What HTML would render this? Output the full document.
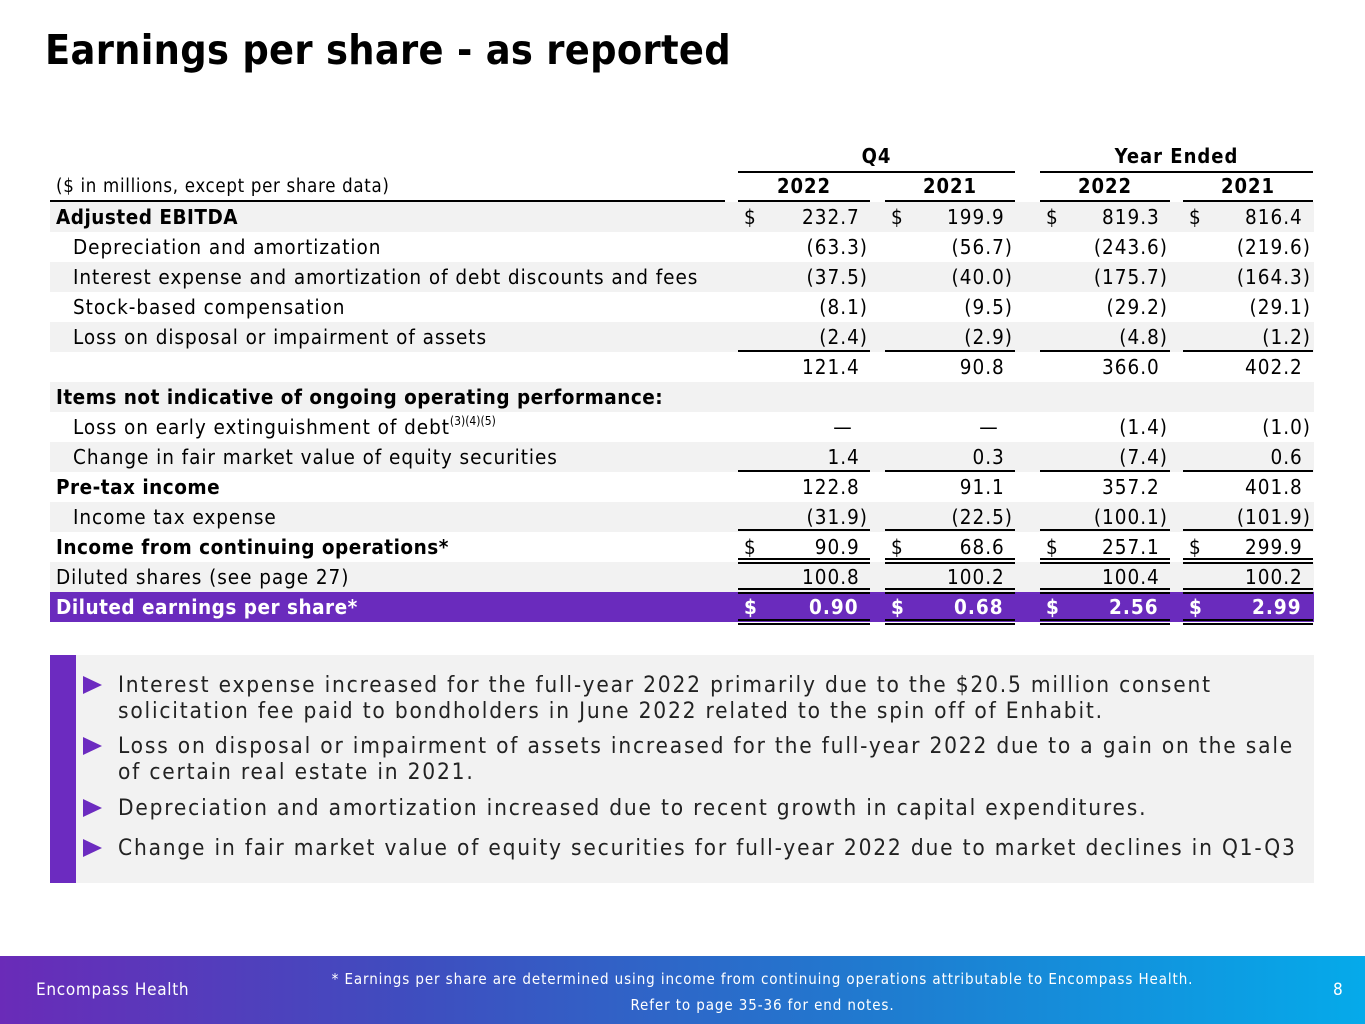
<!DOCTYPE html>
<html><head><meta charset="utf-8"><style>
body{margin:0;width:1365px;height:1024px;position:relative;background:#fff;font-family:"DejaVu Sans Condensed","DejaVu Sans","Liberation Sans",sans-serif;overflow:hidden;color:#000}
.a{position:absolute;white-space:nowrap}
#title{left:45px;top:26px;font-size:41px;font-weight:bold;letter-spacing:0.3px}
.hl{position:absolute;height:2px;background:#000}
.bul{position:absolute;left:118px;font-size:22.5px;line-height:26px;color:#222;letter-spacing:1.8px}
.tri{position:absolute;left:83px;width:0;height:0;border-left:19px solid #6c2bc0;border-top:9px solid transparent;border-bottom:9px solid transparent}
</style></head><body>
<div class="a" id="title">Earnings per share - as reported</div>
<div id="tbl"></div>
<div class="a" style="left:50px;top:655px;width:1264px;height:228px;background:#f2f2f2"></div>
<div class="a" style="left:50px;top:655px;width:26px;height:228px;background:#6c2bc0"></div>
<div class="tri" style="top:676px"></div>
<div class="bul" style="top:672px">Interest expense increased for the full-year 2022 primarily due to the $20.5 million consent<br>solicitation fee paid to bondholders in June 2022 related to the spin off of Enhabit.</div>
<div class="tri" style="top:737px"></div>
<div class="bul" style="top:733px">Loss on disposal or impairment of assets increased for the full-year 2022 due to a gain on the sale<br>of certain real estate in 2021.</div>
<div class="tri" style="top:799px"></div>
<div class="bul" style="top:795px">Depreciation and amortization increased due to recent growth in capital expenditures.</div>
<div class="tri" style="top:839px"></div>
<div class="bul" style="top:835px">Change in fair market value of equity securities for full-year 2022 due to market declines in Q1-Q3</div>
<div class="a" style="left:0;top:956px;width:1365px;height:68px;background:linear-gradient(90deg,#6a2bb8 0%,#3f4dbf 30%,#1f7cd0 65%,#05aaea 100%)"></div>
<div class="a" style="left:36px;top:980px;font-size:17px;color:#fff;letter-spacing:0.7px">Encompass Health</div>
<div class="a" style="left:280px;width:965px;top:966px;font-size:15px;line-height:26px;color:#fff;text-align:center;letter-spacing:0.9px">* Earnings per share are determined using income from continuing operations attributable to Encompass Health.<br>Refer to page 35-36 for end notes.</div>
<div class="a" style="left:1333px;top:980px;font-size:17px;color:#fff">8</div>
<script>
const labels=["Adjusted EBITDA","Depreciation and amortization","Interest expense and amortization of debt discounts and fees","Stock-based compensation","Loss on disposal or impairment of assets","","Items not indicative of ongoing operating performance:","Loss on early extinguishment of debt<span style='font-size:12px;letter-spacing:0;position:relative;top:-9px'>(3)(4)(5)</span>","Change in fair market value of equity securities","Pre-tax income","Income tax expense","Income from continuing operations*","Diluted shares (see page 27)","Diluted earnings per share*"];
const q4_2022=["232.7","(63.3)","(37.5)","(8.1)","(2.4)","121.4","","—","1.4","122.8","(31.9)","90.9","100.8","0.90"];
const q4_2021=["199.9","(56.7)","(40.0)","(9.5)","(2.9)","90.8","","—","0.3","91.1","(22.5)","68.6","100.2","0.68"];
const fy_2022=["819.3","(243.6)","(175.7)","(29.2)","(4.8)","366.0","","(1.4)","(7.4)","357.2","(100.1)","257.1","100.4","2.56"];
const fy_2021=["816.4","(219.6)","(164.3)","(29.1)","(1.2)","402.2","","(1.0)","0.6","401.8","(101.9)","299.9","100.2","2.99"];
const bold=[1,0,0,0,0,0,1,0,0,1,0,1,0,1];
const indent=[0,1,1,1,1,0,0,1,1,0,1,0,0,0];
const dollar=[1,0,0,0,0,0,0,0,0,0,0,1,0,1];
const T=document.getElementById('tbl');
const cols=[[738,870],[885,1015],[1040,1170],[1183,1313]];
const series=[q4_2022,q4_2021,fy_2022,fy_2021];
function add(html,style,name,cls){const d=document.createElement('div');d.className=cls||'a';d.setAttribute('style',style);d.innerHTML=html;


T.appendChild(d);return d;}
function line(x1,x2,y,name){add('','left:'+x1+'px;top:'+y+'px;width:'+(x2-x1)+'px','hl-'+name,'hl');}
add('Q4','left:738px;width:277px;top:143px;text-align:center;font-size:20px;font-weight:bold;line-height:26px;letter-spacing:1px','header-q4');
add('Year Ended','left:1040px;width:273px;top:143px;text-align:center;font-size:20px;font-weight:bold;line-height:26px;letter-spacing:1px','header-year-ended');
line(738,1015,171,'q4');line(1040,1313,171,'year');
const yrs=["2022","2021","2022","2021"];
cols.forEach((c,i)=>{add(yrs[i],'left:'+c[0]+'px;width:'+(c[1]-c[0])+'px;top:172px;text-align:center;font-size:20px;font-weight:bold;line-height:28px;letter-spacing:1px','header-year-'+i);line(c[0],c[1],200,'year-'+i);});
add('($ in millions, except per share data)','left:56px;top:172px;font-size:18.5px;line-height:30px;letter-spacing:0.7px','units-note');
line(50,725,200,'label');
labels.forEach((lb,r)=>{
 const y=202+r*30;
 const bg=r==13?'background:#6a2bbd':(r%2==0?'background:#f2f2f2':'');
 add('','left:50px;top:'+y+'px;width:1264px;height:30px;'+bg,'row-bg-'+r);
 const col=r==13?'color:#fff;':'';
 if(lb)add(lb,'left:'+(indent[r]?73:56)+'px;top:'+y+'px;font-size:20.5px;line-height:30px;letter-spacing:'+(bold[r]?0.5:0.95)+'px;'+(bold[r]?'font-weight:bold;':'')+col,'row-label-'+r);
 series.forEach((s,i)=>{const v=s[r];if(!v)return;const c=cols[i];
  const paren=v[0]=='('||v=='—';
  add(v+(paren?'':'<span style="visibility:hidden">)</span>'),'left:'+c[0]+'px;width:'+(c[1]-c[0]-2)+'px;top:'+y+'px;text-align:'+(v=='—'?'center':'right')+';font-size:20.5px;line-height:30px;letter-spacing:1px;'+(r==13?'font-weight:bold;':'')+col+(v=='—'?'padding-left:80px;box-sizing:border-box;':''),'cell-'+r+'-'+i);
  if(dollar[r])add('$','left:'+(c[0]+6)+'px;top:'+y+'px;font-size:20.5px;line-height:30px;'+(r==13?'font-weight:bold;':'')+col,'dollar-'+r+'-'+i);
 });
});
cols.forEach((c,i)=>{
 line(c[0],c[1],350,'sub-'+i);line(c[0],c[1],470,'chg-'+i);line(c[0],c[1],529,'tax-'+i);
 line(c[0],c[1],558,'inc1-'+i);line(c[0],c[1],562,'inc2-'+i);
 line(c[0],c[1],588,'dil1-'+i);line(c[0],c[1],592,'dil2-'+i);
 line(c[0],c[1],619,'eps1-'+i);line(c[0],c[1],623,'eps2-'+i);
});
</script>
</body></html>
